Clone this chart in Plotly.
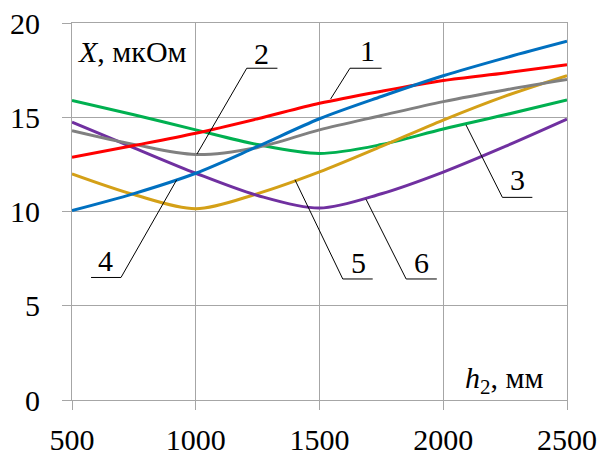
import plotly.graph_objects as go

# Height h2, mm
h2 = [500, 750, 1000, 1250, 1500, 1750, 2000, 2250, 2500]

# Reactance X, µOhm, for six configurations
x1 = [12.88, 13.50, 14.15, 14.92, 15.74, 16.38, 16.95, 17.35, 17.78]
x2 = [14.29, 13.56, 13.02, 13.40, 14.33, 15.09, 15.83, 16.45, 17.00]
x3 = [15.89, 15.13, 14.33, 13.55, 13.08, 13.55, 14.38, 15.13, 15.92]
x4 = [10.05, 10.95, 12.03, 13.45, 14.92, 16.10, 17.20, 18.15, 19.03]
x5 = [12.00, 10.90, 10.15, 10.95, 12.10, 13.45, 14.85, 16.12, 17.21]
x6 = [14.74, 13.38, 12.03, 10.85, 10.18, 10.94, 12.09, 13.45, 14.90]

series = [x1, x2, x3, x4, x5, x6]
colors = ["#FF0000", "#808080", "#00B050", "#0070C0", "#D4A017", "#7030A0"]
draw_order = [2, 4, 5, 1, 0, 3]  # z-order of the curves

# Curve number labels: (label, label x, label y, leader path points)
callouts = [
    ("1", 1693, 18.55, [(1751, 17.6), (1623, 17.6), (1545, 15.97)]),
    ("2", 1266, 18.40, [(1330, 17.6), (1206, 17.6), (1005, 13.05)]),
    ("3", 2299, 11.70, [(2360, 10.75), (2239, 10.75), (2092, 14.59)]),
    ("4", 637, 7.40, [(577, 6.5), (698, 6.5), (923, 11.68)]),
    ("5", 1657, 7.30, [(1715, 6.42), (1594, 6.42), (1401, 11.68)]),
    ("6", 1913, 7.30, [(1974, 6.42), (1850, 6.42), (1688, 10.65)]),
]

FONT = "Liberation Serif, Times New Roman, serif"
FS = 30

fig = go.Figure()
for i in draw_order:
    fig.add_trace(go.Scatter(
        x=h2, y=series[i], mode="lines",
        line=dict(color=colors[i], width=3, shape="spline", smoothing=0.9),
        showlegend=False, hoverinfo="skip",
    ))

shapes = []
annotations = []
for lab, lx, ly, pts in callouts:
    path = "M " + " L ".join(f"{px},{py}" for px, py in pts)
    shapes.append(dict(type="path", xref="x", yref="y", path=path,
                       line=dict(color="black", width=1)))
    annotations.append(dict(
        x=lx, y=ly, xref="x", yref="y", text=lab, showarrow=False,
        font=dict(family=FONT, size=FS, color="black"),
        xanchor="center", yanchor="middle",
    ))

annotations.append(dict(
    x=516, y=18.47, xref="x", yref="y", text="<i>X</i>, мкОм",
    showarrow=False, xanchor="left", yanchor="middle",
    font=dict(family=FONT, size=FS, color="black"),
))
annotations.append(dict(
    x=2411, y=1.05, xref="x", yref="y", text="<i>h</i><sub>2</sub>, мм",
    showarrow=False, xanchor="right", yanchor="middle",
    font=dict(family=FONT, size=FS, color="black"),
))

axis_common = dict(
    showgrid=True, gridcolor="#A6A6A6", gridwidth=1,
    showline=True, linecolor="#A6A6A6", linewidth=1, mirror=True,
    ticks="outside", ticklen=9, tickcolor="#A6A6A6", tickwidth=1,
    tickfont=dict(family=FONT, size=FS, color="black"),
    zeroline=False, fixedrange=True, automargin=False,
)

fig.update_layout(
    width=610, height=457,
    margin=dict(l=72, r=43, t=23, b=57),
    paper_bgcolor="white", plot_bgcolor="white",
    shapes=shapes, annotations=annotations,
    xaxis=dict(range=[500, 2500], tickvals=[500, 1000, 1500, 2000, 2500],
               ticklabelstandoff=4, **axis_common),
    yaxis=dict(range=[0, 20], tickvals=[0, 5, 10, 15, 20],
               ticklabelstandoff=16, **axis_common),
)

fig.write_html("out.html")
